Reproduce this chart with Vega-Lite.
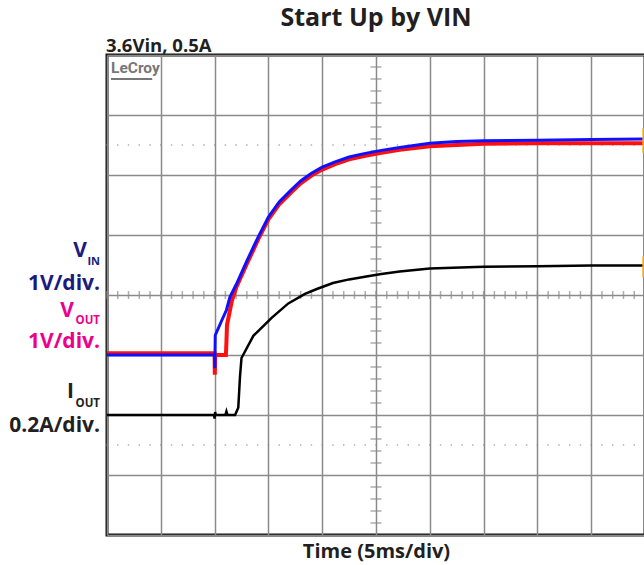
{
  "$schema": "https://vega.github.io/schema/vega-lite/v6.json",
  "width": 538,
  "height": 480,
  "autosize": "none",
  "padding": {"left": 107, "top": 55, "right": 0, "bottom": 30},
  "background": "white",
  "config": {"view": {"stroke": "#111111", "strokeWidth": 3}, "font": "Open Sans"},
  "title": {"text": "Start Up by VIN", "font": "Open Sans", "fontSize": 25, "fontWeight": "bold", "color": "#231f20", "anchor": "middle", "frame": "group", "baseline": "alphabetic", "offset": -14},
  "data": {"values": [{"k": 1}]},
  "datasets": {
    "xt": [{"t":0},{"t":1},{"t":2},{"t":3},{"t":4},{"t":5},{"t":6},{"t":7},{"t":8},{"t":9},{"t":10},{"t":11},{"t":12},{"t":13},{"t":14},{"t":15},{"t":16},{"t":17},{"t":18},{"t":19},{"t":20},{"t":21},{"t":22},{"t":23},{"t":24},{"t":25},{"t":26},{"t":27},{"t":28},{"t":29},{"t":30},{"t":31},{"t":32},{"t":33},{"t":34},{"t":35},{"t":36},{"t":37},{"t":38},{"t":39},{"t":40},{"t":41},{"t":42},{"t":43},{"t":44},{"t":45},{"t":46},{"t":47},{"t":48},{"t":49}],
    "yt": [{"v":0.2},{"v":0.4},{"v":0.6},{"v":0.8},{"v":1.2},{"v":1.4},{"v":1.6},{"v":1.8},{"v":2.2},{"v":2.4},{"v":2.6},{"v":2.8},{"v":3.2},{"v":3.4},{"v":3.6},{"v":3.8},{"v":4.2},{"v":4.4},{"v":4.6},{"v":4.8},{"v":5.2},{"v":5.4},{"v":5.6},{"v":5.8},{"v":6.2},{"v":6.4},{"v":6.6},{"v":6.8},{"v":7.2},{"v":7.4},{"v":7.6},{"v":7.8}],
    "traces": [
      {"ch":"VOUT","t":0,"v":3.03},{"ch":"VOUT","t":5,"v":3.03},{"ch":"VOUT","t":10.0,"v":3.03},{"ch":"VOUT","t":10.02,"v":2.67},{"ch":"VOUT","t":10.06,"v":3.0},{"ch":"VOUT","t":11.05,"v":3.0},{"ch":"VOUT","t":11.1,"v":3.22},{"ch":"VOUT","t":11.15,"v":3.5},{"ch":"VOUT","t":11.6,"v":3.9},{"ch":"VOUT","t":12.0,"v":4.12},{"ch":"VOUT","t":13.0,"v":4.52},{"ch":"VOUT","t":14.06,"v":4.93},{"ch":"VOUT","t":15.0,"v":5.26},{"ch":"VOUT","t":16.0,"v":5.51},{"ch":"VOUT","t":17.17,"v":5.72},{"ch":"VOUT","t":18.0,"v":5.86},{"ch":"VOUT","t":19.0,"v":5.99},{"ch":"VOUT","t":20.0,"v":6.09},{"ch":"VOUT","t":21.2,"v":6.18},{"ch":"VOUT","t":22.5,"v":6.26},{"ch":"VOUT","t":24.0,"v":6.32},{"ch":"VOUT","t":25.5,"v":6.37},{"ch":"VOUT","t":27.2,"v":6.42},{"ch":"VOUT","t":30,"v":6.48},{"ch":"VOUT","t":35,"v":6.52},{"ch":"VOUT","t":40,"v":6.53},{"ch":"VOUT","t":45,"v":6.53},{"ch":"VOUT","t":49.8,"v":6.53},
      {"ch":"VIN","t":0,"v":3.0},{"ch":"VIN","t":2,"v":3.0},{"ch":"VIN","t":5,"v":3.0},{"ch":"VIN","t":8,"v":3.0},{"ch":"VIN","t":10.0,"v":3.0},{"ch":"VIN","t":10.02,"v":2.78},{"ch":"VIN","t":10.06,"v":3.33},{"ch":"VIN","t":10.6,"v":3.55},{"ch":"VIN","t":11.1,"v":3.75},{"ch":"VIN","t":11.43,"v":3.97},{"ch":"VIN","t":12.0,"v":4.17},{"ch":"VIN","t":13.0,"v":4.57},{"ch":"VIN","t":14.06,"v":4.97},{"ch":"VIN","t":15.0,"v":5.3},{"ch":"VIN","t":16.0,"v":5.55},{"ch":"VIN","t":17.17,"v":5.76},{"ch":"VIN","t":18.0,"v":5.9},{"ch":"VIN","t":19.0,"v":6.03},{"ch":"VIN","t":20.0,"v":6.13},{"ch":"VIN","t":21.2,"v":6.22},{"ch":"VIN","t":22.5,"v":6.3},{"ch":"VIN","t":24.0,"v":6.36},{"ch":"VIN","t":25.5,"v":6.41},{"ch":"VIN","t":27.2,"v":6.46},{"ch":"VIN","t":30,"v":6.53},{"ch":"VIN","t":32.5,"v":6.56},{"ch":"VIN","t":35,"v":6.57},{"ch":"VIN","t":40,"v":6.58},{"ch":"VIN","t":45,"v":6.59},{"ch":"VIN","t":49.8,"v":6.6},
      {"ch":"IOUT","t":0,"v":2.0},{"ch":"IOUT","t":5,"v":2.0},{"ch":"IOUT","t":9.95,"v":2.0},{"ch":"IOUT","t":10.0,"v":1.94},{"ch":"IOUT","t":10.05,"v":2.05},{"ch":"IOUT","t":10.1,"v":2.0},{"ch":"IOUT","t":11.0,"v":2.0},{"ch":"IOUT","t":11.1,"v":2.06},{"ch":"IOUT","t":11.2,"v":2.0},{"ch":"IOUT","t":11.9,"v":2.0},{"ch":"IOUT","t":12.2,"v":2.12},{"ch":"IOUT","t":12.36,"v":2.64},{"ch":"IOUT","t":12.5,"v":2.95},{"ch":"IOUT","t":12.8,"v":3.05},{"ch":"IOUT","t":13.6,"v":3.32},{"ch":"IOUT","t":15.3,"v":3.62},{"ch":"IOUT","t":16.85,"v":3.86},{"ch":"IOUT","t":18.4,"v":4.02},{"ch":"IOUT","t":19.5,"v":4.1},{"ch":"IOUT","t":21.0,"v":4.2},{"ch":"IOUT","t":22.5,"v":4.26},{"ch":"IOUT","t":24.1,"v":4.31},{"ch":"IOUT","t":25.5,"v":4.35},{"ch":"IOUT","t":27.2,"v":4.39},{"ch":"IOUT","t":30,"v":4.44},{"ch":"IOUT","t":35,"v":4.47},{"ch":"IOUT","t":40,"v":4.48},{"ch":"IOUT","t":45,"v":4.49},{"ch":"IOUT","t":49.8,"v":4.49}
    ]
  },
  "encoding": {
    "x": {"type": "quantitative", "scale": {"domain": [0, 50], "nice": false, "zero": false},
          "axis": {"values": [0,5,10,15,20,25,30,35,40,45,50], "grid": true, "gridColor": "#8a8a8a", "gridWidth": 1.5, "domain": false, "ticks": false, "labels": false, "title": "Time (5ms/div)", "titleFont": "Open Sans", "titleFontSize": 20, "titleFontWeight": "bold", "titleColor": "#231f20", "titlePadding": 6}},
    "y": {"type": "quantitative", "scale": {"domain": [0, 8], "nice": false, "zero": false},
          "axis": {"values": [0,1,2,3,4,5,6,7,8], "grid": true, "gridColor": "#8a8a8a", "gridWidth": 1.5, "domain": false, "ticks": false, "labels": false, "title": null}}
  },
  "layer": [
    {
      "data": {"name": "xt"},
      "mark": {"type": "tick", "orient": "vertical", "size": 8, "thickness": 1.5, "color": "#8a8a8a"},
      "encoding": {"x": {"field": "t"}, "y": {"datum": 4}}
    },
    {
      "data": {"name": "yt"},
      "mark": {"type": "tick", "orient": "horizontal", "size": 11, "thickness": 1.5, "color": "#8a8a8a"},
      "encoding": {"x": {"datum": 25}, "y": {"field": "v"}}
    },
    {
      "data": {"name": "xt"},
      "mark": {"type": "point", "shape": "square", "filled": true, "size": 2, "color": "#8a8a8a"},
      "encoding": {"x": {"field": "t"}, "y": {"datum": 6.5}}
    },
    {
      "data": {"name": "xt"},
      "mark": {"type": "point", "shape": "square", "filled": true, "size": 2, "color": "#8a8a8a"},
      "encoding": {"x": {"field": "t"}, "y": {"datum": 1.5}}
    },
    {
      "data": {"name": "traces"},
      "transform": [{"filter": "datum.ch === 'VOUT'"}],
      "mark": {"type": "line", "color": "#ff1010", "strokeWidth": 4},
      "encoding": {"x": {"field": "t"}, "y": {"field": "v"}}
    },
    {
      "data": {"name": "traces"},
      "transform": [{"filter": "datum.ch === 'VIN'"}],
      "mark": {"type": "line", "color": "#1010ff", "strokeWidth": 3},
      "encoding": {"x": {"field": "t"}, "y": {"field": "v"}}
    },
    {
      "data": {"name": "traces"},
      "transform": [{"filter": "datum.ch === 'IOUT'"}],
      "mark": {"type": "line", "color": "#000000", "strokeWidth": 2.5},
      "encoding": {"x": {"field": "t"}, "y": {"field": "v"}}
    },
    {
      "mark": {"type": "rule", "color": "#f5a31a", "strokeWidth": 2},
      "encoding": {"x": {"datum": 49.85}, "y": {"datum": 6.78}, "y2": {"datum": 6.37}}
    },
    {
      "mark": {"type": "rule", "color": "#f5a31a", "strokeWidth": 2},
      "encoding": {"x": {"datum": 49.85}, "y": {"datum": 4.64}, "y2": {"datum": 4.29}}
    },
    {
      "mark": {"type": "text", "text": "3.6Vin, 0.5A", "align": "left", "baseline": "alphabetic", "dx": -1, "dy": -3, "fontSize": 18.5, "fontWeight": "bold", "font": "Open Sans", "color": "#231f20"},
      "encoding": {"x": {"datum": 0}, "y": {"datum": 8}}
    },
    {
      "mark": {"type": "text", "text": "LeCroy", "align": "left", "baseline": "alphabetic", "dx": 4, "dy": 18, "fontSize": 15.5, "fontWeight": "bold", "font": "Roboto", "color": "#777777"},
      "encoding": {"x": {"datum": 0}, "y": {"datum": 8}}
    },
    {
      "mark": {"type": "rule", "color": "#777777", "strokeWidth": 2},
      "encoding": {"x": {"datum": 0.37}, "x2": {"datum": 4.2}, "y": {"datum": 7.6}}
    },
    {
      "mark": {"type": "text", "text": "V", "align": "right", "baseline": "alphabetic", "dx": -20, "fontSize": 21, "fontWeight": "bold", "font": "Open Sans", "color": "#1c1a7e"},
      "encoding": {"x": {"datum": 0}, "y": {"datum": 4.64}}
    },
    {
      "mark": {"type": "text", "text": "IN", "align": "right", "baseline": "alphabetic", "dx": -7, "fontSize": 11, "fontWeight": "bold", "font": "Open Sans", "color": "#1c1a7e"},
      "encoding": {"x": {"datum": 0}, "y": {"datum": 4.5}}
    },
    {
      "mark": {"type": "text", "text": "1V/div.", "align": "right", "baseline": "alphabetic", "dx": -7, "fontSize": 21, "fontWeight": "bold", "font": "Open Sans", "color": "#1c1a7e"},
      "encoding": {"x": {"datum": 0}, "y": {"datum": 4.083}}
    },
    {
      "mark": {"type": "text", "text": "V", "align": "right", "baseline": "alphabetic", "dx": -33, "fontSize": 21, "fontWeight": "bold", "font": "Open Sans", "color": "#ec008c"},
      "encoding": {"x": {"datum": 0}, "y": {"datum": 3.64}}
    },
    {
      "mark": {"type": "text", "text": "OUT", "align": "right", "baseline": "alphabetic", "dx": -7, "fontSize": 11.5, "fontWeight": "bold", "font": "Open Sans", "color": "#ec008c"},
      "encoding": {"x": {"datum": 0}, "y": {"datum": 3.517}}
    },
    {
      "mark": {"type": "text", "text": "1V/div.", "align": "right", "baseline": "alphabetic", "dx": -7, "fontSize": 21, "fontWeight": "bold", "font": "Open Sans", "color": "#ec008c"},
      "encoding": {"x": {"datum": 0}, "y": {"datum": 3.11}}
    },
    {
      "mark": {"type": "text", "text": "I", "align": "right", "baseline": "alphabetic", "dx": -33, "fontSize": 21, "fontWeight": "bold", "font": "Open Sans", "color": "#231f20"},
      "encoding": {"x": {"datum": 0}, "y": {"datum": 2.283}}
    },
    {
      "mark": {"type": "text", "text": "OUT", "align": "right", "baseline": "alphabetic", "dx": -7, "fontSize": 11.5, "fontWeight": "bold", "font": "Open Sans", "color": "#231f20"},
      "encoding": {"x": {"datum": 0}, "y": {"datum": 2.14}}
    },
    {
      "mark": {"type": "text", "text": "0.2A/div.", "align": "right", "baseline": "alphabetic", "dx": -7, "fontSize": 21, "fontWeight": "bold", "font": "Open Sans", "color": "#231f20"},
      "encoding": {"x": {"datum": 0}, "y": {"datum": 1.72}}
    }
  ]
}
